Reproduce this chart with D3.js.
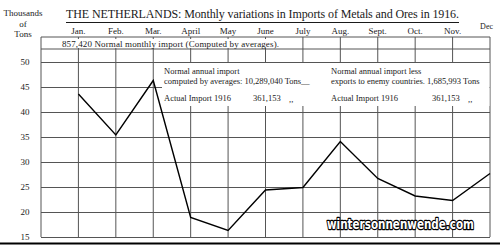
<!DOCTYPE html>
<html>
<head>
<meta charset="utf-8">
<script src="https://cdn.jsdelivr.net/npm/d3@7"></script>
<style>
  body { margin: 0; background: #fff; }
  svg { display: block; font-family: "Liberation Serif", "DejaVu Serif", serif; }
</style>
</head>
<body>
<svg id="chart" width="500" height="246"></svg>
<script>
'use strict';

// Data (thousands of tons)
var months = ['Jan.', 'Feb.', 'Mar.', 'April', 'May', 'June', 'July', 'Aug.', 'Sept.', 'Oct.', 'Nov.', 'Dec'];
var imports = [43.6, 35.4, 46.3, 18.9, 16.3, 24.4, 24.9, 34.1, 26.7, 23.2, 22.3, 27.7];
var yTicks = [15, 20, 25, 30, 35, 40, 45, 50];
var titleText = 'THE NETHERLANDS: Monthly variations in Imports of Metals and Ores in 1916.';
var topRowText = '857,420  Normal monthly import (Computed by averages).';
var noteLeft = ['Normal annual import', 'computed by averages: 10,289,040 Tons__', 'Actual Import  1916', '361,153', ',,'];
var noteRight = ['Normal annual import less', 'exports to enemy countries. 1,685,993 Tons', 'Actual Import 1916', '361,153', ',,'];

var svg = d3.select('#chart');
var ink = '#1a1a1a', grid = '#555';

var x = d3.scaleLinear().domain([-1, 11]).range([41, 490]);
var y = d3.scaleLinear().domain([15, 50]).range([237, 62]);

// horizontal gridlines
svg.append('g')
  .attr('transform', 'translate(' + x(-1) + ',0)')
  .call(d3.axisRight(y).tickValues(yTicks).tickSize(x(11) - x(-1)).tickFormat(''))
  .call(function(g) {
    g.select('.domain').remove();
    g.selectAll('line').attr('stroke', grid).attr('stroke-width', 1);
  });

// vertical gridlines, one per month plus the left frame edge
var xs = d3.range(-1, 12);
svg.append('g').selectAll('line').data(xs).join('line')
  .attr('x1', function(d) { return x(d); })
  .attr('x2', function(d) { return x(d); })
  .attr('y1', 37).attr('y2', y(15))
  .attr('stroke', grid).attr('stroke-width', 1);

// top row of the frame
[37, 49].forEach(function(yy) {
  svg.append('line').attr('x1', x(-1)).attr('x2', x(11)).attr('y1', yy).attr('y2', yy)
    .attr('stroke', grid).attr('stroke-width', 1);
});
svg.append('rect').attr('x', 60).attr('y', 39).attr('width', 222).attr('height', 9).attr('fill', '#fff');
svg.append('text').attr('x', 62).attr('y', 46.5).attr('font-size', 9).attr('fill', ink)
  .attr('textLength', 217).text(topRowText);

// y labels
svg.append('g').selectAll('text').data(yTicks).join('text')
  .attr('x', 25).attr('y', function(d) { return y(d) + 3; })
  .attr('text-anchor', 'middle').attr('font-size', 9).attr('fill', ink)
  .text(function(d) { return d; });

// month labels
svg.append('g').selectAll('text').data(months).join('text')
  .attr('x', function(d, i) { return x(i); })
  .attr('y', function(d, i) { return i === 11 ? 29 : 34; })
  .attr('text-anchor', function(d, i) { return i === 11 ? 'end' : 'middle'; })
  .attr('dx', function(d, i) { return i === 11 ? 3 : 0; })
  .attr('font-size', function(d, i) { return i === 11 ? 8 : 9; })
  .attr('fill', ink)
  .text(function(d) { return d; });

// axis caption
['Thousands', 'of', 'Tons'].forEach(function(t, i) {
  svg.append('text').attr('x', 23).attr('y', 16 + i * 10.5)
    .attr('text-anchor', 'middle').attr('font-size', 9).attr('fill', ink).text(t);
});

// title
svg.append('text').attr('x', 66).attr('y', 18).attr('font-size', 12).attr('fill', ink)
  .attr('textLength', 393).text(titleText);
svg.append('line').attr('x1', 66).attr('x2', 459).attr('y1', 22.5).attr('y2', 22.5)
  .attr('stroke', ink).attr('stroke-width', 1);

// note box covering part of the grid
svg.append('rect').attr('x', 162).attr('y', 63).attr('width', x(11) - 162 - 0.5).attr('height', 43)
  .attr('fill', '#fff');

function note(lines, x0, xNum) {
  var g = svg.append('g').attr('font-size', 8.5).attr('fill', ink);
  g.append('text').attr('x', x0).attr('y', 74).text(lines[0]);
  g.append('text').attr('x', x0).attr('y', 84).text(lines[1]);
  g.append('text').attr('x', x0).attr('y', 101).text(lines[2]);
  g.append('text').attr('x', xNum).attr('y', 101).text(lines[3]);
  g.append('text').attr('x', xNum + 36).attr('y', 102).text(lines[4]);
}
note(noteLeft, 164, 253);
note(noteRight, 331, 432);

// data line
var line = d3.line()
  .x(function(d, i) { return x(i); })
  .y(function(d) { return y(d); });
svg.append('path').datum(imports)
  .attr('d', line)
  .attr('fill', 'none').attr('stroke', '#000').attr('stroke-width', 1.4)
  .attr('stroke-linejoin', 'miter');

// bottom border
svg.append('line').attr('x1', 0).attr('x2', 500).attr('y1', 243.5).attr('y2', 243.5)
  .attr('stroke', '#000').attr('stroke-width', 2);

// watermark, squeezed horizontally to the condensed look of the original
var wm = svg.append('g');
var wmText = wm.append('text')
  .attr('font-family', '"DejaVu Sans", sans-serif').attr('font-weight', 'bold')
  .attr('font-size', 14)
  .attr('fill', '#fff').attr('stroke', '#000').attr('stroke-width', 2.5)
  .attr('paint-order', 'stroke').attr('stroke-linejoin', 'round')
  .text('wintersonnenwende.com');
var wmScale = 147 / wmText.node().getComputedTextLength();
wm.attr('transform', 'translate(327,229) scale(' + wmScale + ',1)');
</script>
</body>
</html>
